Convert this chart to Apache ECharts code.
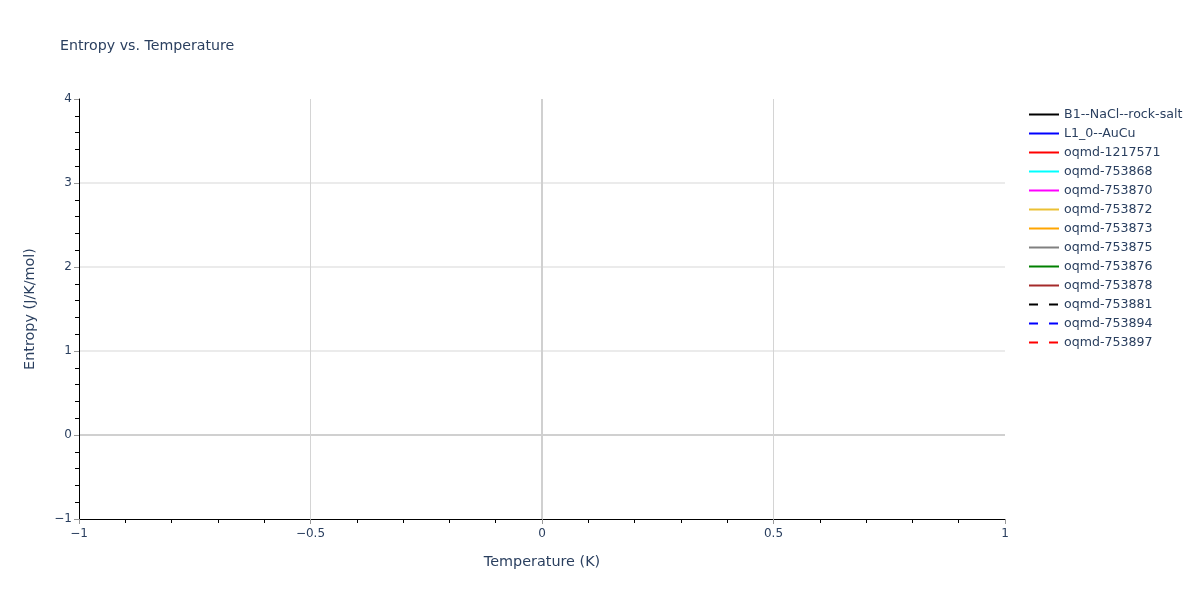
<!DOCTYPE html>
<html>
<head>
<meta charset="utf-8">
<script src="https://cdn.jsdelivr.net/npm/echarts@6/dist/echarts.min.js"></script>
<style>html,body{margin:0;padding:0;background:#fff;}#main{width:1200px;height:600px;}</style>
</head>
<body>
<div id="main"></div>
<script>
const seriesNames = ["B1--NaCl--rock-salt","L1_0--AuCu","oqmd-1217571","oqmd-753868","oqmd-753870","oqmd-753872","oqmd-753873","oqmd-753875","oqmd-753876","oqmd-753878","oqmd-753881","oqmd-753894","oqmd-753897"];
const seriesColors = ["#000000","#0000ff","#ff0000","#00ffff","#ff00ff","#ebc034","#ffa500","#808080","#008000","#a52a2a","#000000","#0000ff","#ff0000"];
const seriesDashed = [false,false,false,false,false,false,false,false,false,false,true,true,true];
const seriesData = [[],[],[],[],[],[],[],[],[],[],[],[],[]];
const xRange = [-1, 1];
const yRange = [-1, 4];

const FONT = '"DejaVu Sans", Verdana, sans-serif';
const TXT = '#2a3f5f';
const fmt = v => String(v).replace('-', '\u2212');

const chart = echarts.init(document.getElementById('main'));
chart.setOption({
  animation: false,
  backgroundColor: '#fff',
  textStyle: {fontFamily: FONT},
  title: {
    text: 'Entropy vs. Temperature',
    left: 55, top: 34,
    textStyle: {fontFamily: FONT, fontSize: 14.2, fontWeight: 'normal', color: TXT}
  },
  legend: {
    orient: 'vertical',
    left: 1023, top: 103,
    itemWidth: 30, itemHeight: 14, itemGap: 6,
    itemStyle: {opacity: 0},
    textStyle: {fontFamily: FONT, fontSize: 12.6, color: TXT},
    data: seriesNames
  },
  grid: {left: 79, right: 195, top: 99, bottom: 81, containLabel: false},
  xAxis: {
    type: 'value', min: xRange[0], max: xRange[1], interval: 0.5,
    name: 'Temperature (K)', nameLocation: 'middle', nameGap: 36,
    nameTextStyle: {fontFamily: FONT, fontSize: 14.4, color: TXT},
    axisLine: {onZero: false, lineStyle: {color: '#000', width: 1}},
    axisTick: {show: true, length: 5, lineStyle: {color: '#999'}},
    minorTick: {show: true, splitNumber: 5, length: 4, lineStyle: {color: '#000'}},
    axisLabel: {margin: 9, fontFamily: FONT, fontSize: 12, color: TXT, formatter: fmt},
    splitLine: {show: true, lineStyle: {color: ['transparent', '#d4d4d4', 'transparent', '#d4d4d4', 'transparent'], width: 1}}
  },
  yAxis: {
    type: 'value', min: yRange[0], max: yRange[1], interval: 1,
    name: 'Entropy (J/K/mol)', nameLocation: 'middle', nameGap: 42,
    nameTextStyle: {fontFamily: FONT, fontSize: 14.4, color: TXT},
    axisLine: {show: true, onZero: false, lineStyle: {color: '#000', width: 1}},
    axisTick: {show: true, length: 5, lineStyle: {color: '#999'}},
    minorTick: {show: true, splitNumber: 5, length: 4, lineStyle: {color: '#000'}},
    axisLabel: {margin: 7, fontFamily: FONT, fontSize: 12, color: TXT, formatter: fmt},
    splitLine: {show: true, lineStyle: {color: ['transparent', '#d0d0d0', '#ebebeb', '#ebebeb', '#ebebeb', 'transparent'], width: 2}}
  },
  series: seriesNames.map((n, i) => {
    const s = {
      name: n, type: 'line', symbol: 'none', data: seriesData[i],
      itemStyle: {color: seriesColors[i]},
      lineStyle: {color: seriesColors[i], width: 2, type: seriesDashed[i] ? [9, 11] : 'solid'}
    };
    if (i === 0) {
      s.markLine = {
        silent: true, symbol: 'none', animation: false,
        label: {show: false},
        lineStyle: {color: '#d0d0d0', width: 2, type: 'solid'},
        data: [{xAxis: 0}]
      };
    }
    return s;
  })
});
</script>
</body>
</html>
